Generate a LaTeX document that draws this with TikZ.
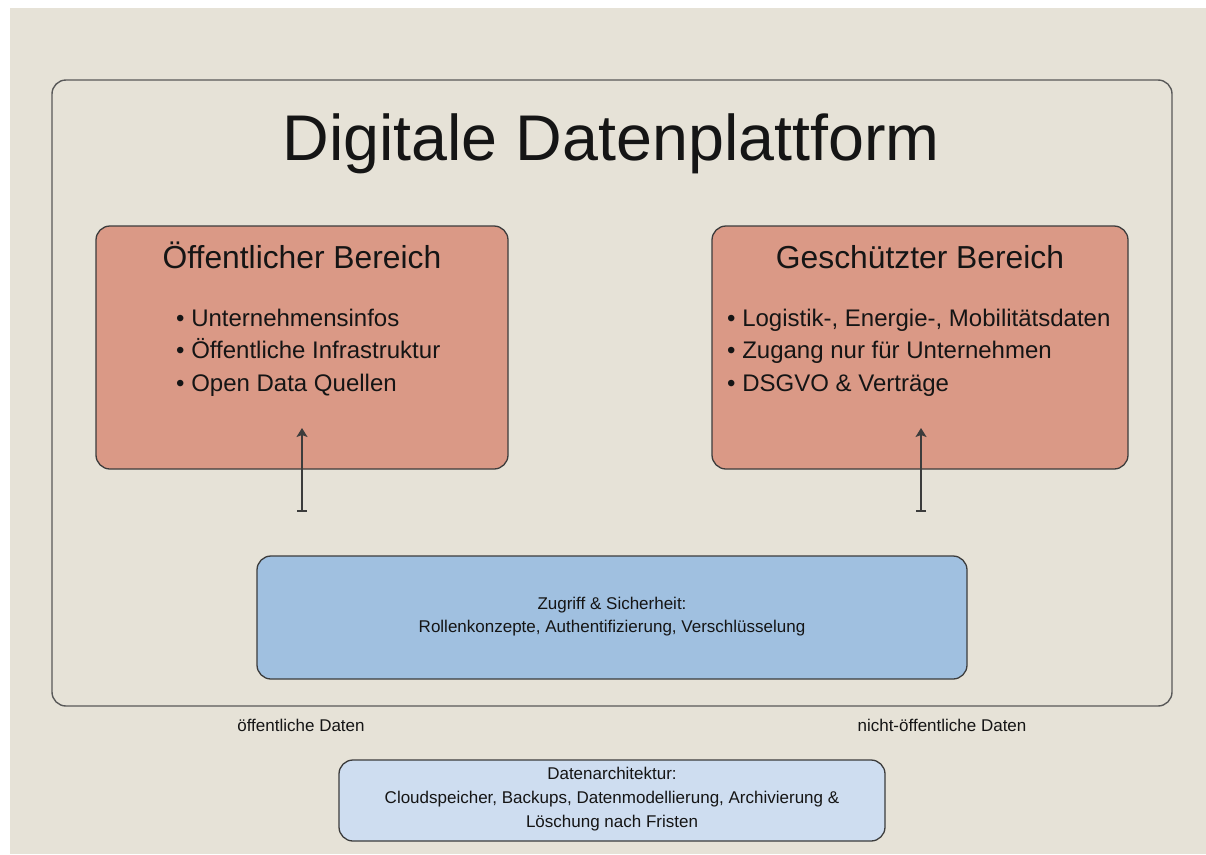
\documentclass[tikz,border=0pt]{standalone}
\usepackage{fontspec}
\setmainfont{Liberation Sans}
\usetikzlibrary{arrows.meta}
\definecolor{bg}{HTML}{E6E2D7}
\definecolor{redfill}{HTML}{DA9986}
\definecolor{bluefill}{HTML}{A0C0E0}
\definecolor{lightblue}{HTML}{CEDDF0}
\definecolor{edge}{HTML}{3C3C3C}
\definecolor{txt}{HTML}{151515}
\begin{document}
\begin{tikzpicture}[x=1pt,y=-1pt,
  panel/.style={draw=edge, line width=1.3pt, rounded corners=14pt, inner sep=0pt},
  redpanel/.style={panel, fill=redfill, minimum width=412pt, minimum height=243pt},
  hdr/.style={font=\fontsize{31.8}{36}\selectfont, text=txt, inner sep=0pt, anchor=base},
  bullets/.style={font=\fontsize{24}{32.5}\selectfont, text=txt, inner sep=0pt, align=left, anchor=base west},
  small/.style={font=\fontsize{17}{23}\selectfont, text=txt, inner sep=0pt, align=center},
  conn/.style={draw=edge, line width=1.6pt, {Bar[width=10pt]}-{Stealth[length=9pt,width=11pt,inset=2pt]}}
]
\useasboundingbox (0,0) rectangle (1206,854);
\fill[white] (0,0) rectangle (1206,854);
\fill[bg] (10,8) rectangle (1206,854);

% outer frame
\node[panel, draw=edge!85, line width=1.4pt, minimum width=1120pt, minimum height=626pt] (outer) at (612,393) {};
\node[font=\fontsize{64.6}{72}\selectfont, text=txt, inner sep=0pt, anchor=base] (title) at (611,160) {Digitale Datenplattform};

% left red panel
\node[redpanel] (pub) at (302,347.5) {};
\node[hdr] (pubhdr) at (302,268) {Öffentlicher Bereich};
\node[bullets] (publist) at (176,391) {• Unternehmensinfos\\• Öffentliche Infrastruktur\\• Open Data Quellen};

% right red panel
\node[redpanel, minimum width=416pt] (prot) at (920,347.5) {};
\node[hdr] (prothdr) at (920,268) {Geschützter Bereich};
\node[bullets] (protlist) at (727,391) {• Logistik-, Energie-, Mobilitätsdaten\\• Zugang nur für Unternehmen\\• DSGVO \& Verträge};

% access / security
\node[panel, fill=bluefill, minimum width=710pt, minimum height=123pt] (sec) at (612,617.5) {};
\node[small] (sectext) at (612,616.5) {Zugriff \& Sicherheit:\\Rollenkonzepte, Authentifizierung, Verschlüsselung};

% arrows
\coordinate (l0) at (302,512);
\coordinate (l1) at (302,428);
\coordinate (r0) at (921,512);
\coordinate (r1) at (921,428);
\draw[conn] (l0) -- (l1);
\draw[conn] (r0) -- (r1);

% labels
\node[small] (pubdata) at (301,725) {öffentliche Daten};
\node[small] (privdata) at (942,725) {nicht-öffentliche Daten};

% data architecture
\node[panel, fill=lightblue, minimum width=546pt, minimum height=81pt] (arch) at (612,800.5) {};
\node[small, font=\fontsize{17}{24}\selectfont] (archtext) at (612,799.5) {Datenarchitektur:\\Cloudspeicher, Backups, Datenmodellierung, Archivierung \&\\Löschung nach Fristen};
\end{tikzpicture}
\end{document}
